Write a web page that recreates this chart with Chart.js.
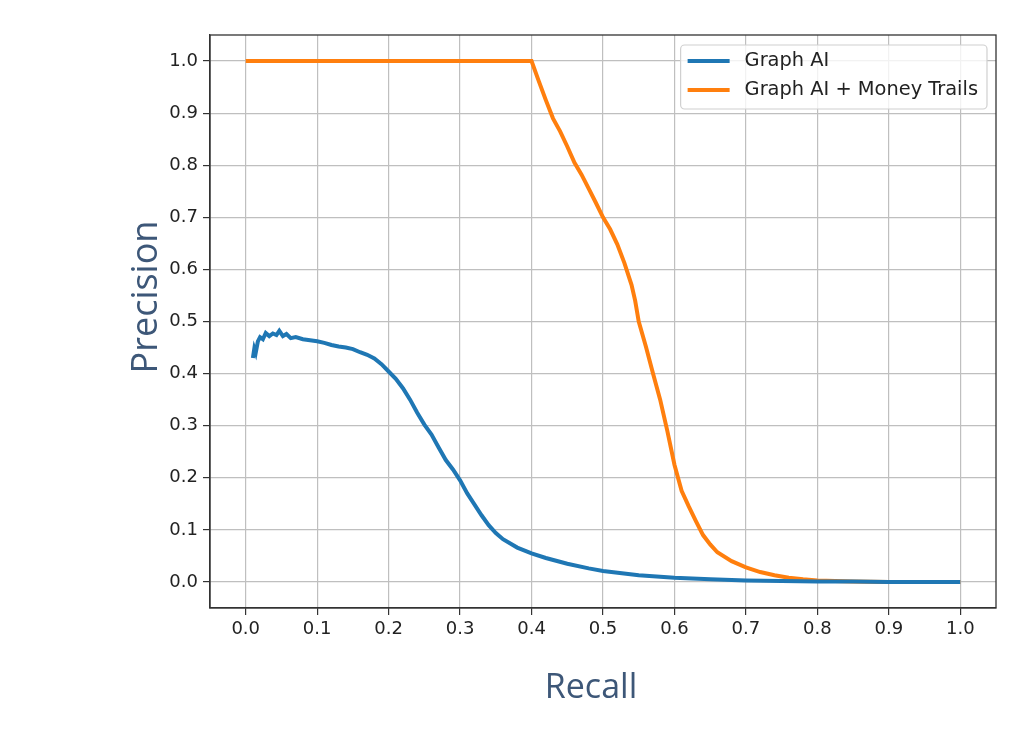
<!DOCTYPE html>
<html lang="en">
<head>
    <meta charset="UTF-8">
    <title>Precision / Recall</title>
    <script src="https://cdn.jsdelivr.net/npm/chart.js"></script>
    <style>
        html, body { margin: 0; padding: 0; background: #ffffff; }
        .grafico { width: 1032px; height: 742px; }
    </style>
</head>
<body>
    <div class="grafico">
        <canvas id="graficoPR" width="1032" height="742"></canvas>
    </div>

<script>
// dados
var xTicks = [0.0, 0.1, 0.2, 0.3, 0.4, 0.5, 0.6, 0.7, 0.8, 0.9, 1.0];
var yTicks = [0.0, 0.1, 0.2, 0.3, 0.4, 0.5, 0.6, 0.7, 0.8, 0.9, 1.0];

var tituloX = 'Recall';
var tituloY = 'Precision';

var labelAzul = 'Graph AI';
var recallAzul = [0.010, 0.012, 0.014, 0.017, 0.020, 0.024, 0.028, 0.033, 0.038, 0.043, 0.047, 0.052, 0.057, 0.063,
    0.070, 0.080, 0.090, 0.100, 0.110, 0.120, 0.130, 0.140, 0.150, 0.160, 0.170, 0.180, 0.190, 0.200, 0.210, 0.220,
    0.230, 0.240, 0.250, 0.260, 0.270, 0.280, 0.290, 0.300, 0.310, 0.320, 0.330, 0.340, 0.350, 0.360, 0.380, 0.400,
    0.420, 0.450, 0.480, 0.500, 0.550, 0.600, 0.650, 0.700, 0.750, 0.800, 0.850, 0.900, 0.950, 1.000];
var precisaoAzul = [0.430, 0.448, 0.440, 0.462, 0.470, 0.466, 0.478, 0.472, 0.477, 0.474, 0.482, 0.472, 0.476, 0.468,
    0.470, 0.466, 0.464, 0.462, 0.459, 0.455, 0.452, 0.450, 0.447, 0.441, 0.436, 0.429, 0.418, 0.404, 0.390, 0.372,
    0.350, 0.325, 0.302, 0.283, 0.258, 0.234, 0.216, 0.195, 0.170, 0.149, 0.128, 0.109, 0.094, 0.082, 0.066, 0.055,
    0.046, 0.035, 0.026, 0.021, 0.013, 0.008, 0.005, 0.003, 0.002, 0.001, 0.001, 0.000, 0.000, 0.000];

var labelLaranja = 'Graph AI + Money Trails';
var recallLaranja = [0.000, 0.400, 0.410, 0.420, 0.430, 0.440, 0.450, 0.460, 0.470, 0.480, 0.490, 0.500, 0.510, 0.520,
    0.530, 0.540, 0.545, 0.550, 0.560, 0.570, 0.580, 0.590, 0.600, 0.610, 0.620, 0.630, 0.640, 0.650, 0.660, 0.680,
    0.700, 0.720, 0.740, 0.760, 0.780, 0.800, 0.850, 0.900, 0.950, 1.000];
var precisaoLaranja = [1.000, 1.000, 0.962, 0.925, 0.890, 0.865, 0.836, 0.805, 0.782, 0.755, 0.728, 0.700, 0.677, 0.648,
    0.612, 0.570, 0.540, 0.500, 0.452, 0.400, 0.350, 0.290, 0.225, 0.175, 0.145, 0.117, 0.090, 0.072, 0.057, 0.040,
    0.028, 0.019, 0.013, 0.008, 0.005, 0.003, 0.001, 0.000, 0.000, 0.000];

function pontos(xs, ys) {
    var lista = [];
    for (var i = 0; i < xs.length; i++) {
        lista.push({ x: xs[i], y: ys[i] });
    }
    return lista;
}

var corTitulo = '#3d5778';
var fonteTick = { family: 'DejaVu Sans', size: 18 };

// moldura completa do eixo (matplotlib) + titulos dos eixos
var moldura = {
    id: 'moldura',
    afterDatasetsDraw: function (chart) {
        var a = chart.chartArea, ctx = chart.ctx;
        ctx.save();
        ctx.strokeStyle = '#333333';
        ctx.lineWidth = 1.3;
        ctx.strokeRect(a.left, a.top, a.right - a.left, a.bottom - a.top);

        // titulos: no original ficam um pouco fora do centro
        ctx.fillStyle = corTitulo;
        ctx.textAlign = 'center';
        ctx.textBaseline = 'middle';
        ctx.font = '34px "Open Sans"';
        ctx.fillText(tituloX, 591, 688);
        ctx.translate(147, 297);
        ctx.rotate(-Math.PI / 2);
        ctx.font = '36px "Open Sans"';
        ctx.fillText(tituloY, 0, 0);
        ctx.restore();
    }
};

// legenda dentro da area do grafico, canto superior direito
var legendaInterna = {
    id: 'legendaInterna',
    afterDraw: function (chart) {
        var a = chart.chartArea, ctx = chart.ctx;
        var ds = chart.data.datasets;
        ctx.save();
        ctx.font = '19.4px "DejaVu Sans"';
        var largTexto = 0;
        ds.forEach(function (d) { largTexto = Math.max(largTexto, ctx.measureText(d.label).width); });
        var w = 7 + 42 + 15 + largTexto + 9;
        var h = 64;
        var x = a.right - 9 - w;
        var y = a.top + 10;
        ctx.fillStyle = 'rgba(255,255,255,0.8)';
        ctx.strokeStyle = '#d0d0d0';
        ctx.lineWidth = 1.2;
        ctx.beginPath();
        ctx.roundRect(x, y, w, h, 4);
        ctx.fill();
        ctx.stroke();
        ds.forEach(function (d, i) {
            var ly = y + 16 + i * 29;
            ctx.strokeStyle = d.borderColor;
            ctx.lineWidth = 4;
            ctx.beginPath();
            ctx.moveTo(x + 7, ly);
            ctx.lineTo(x + 49, ly);
            ctx.stroke();
            ctx.fillStyle = '#222222';
            ctx.textBaseline = 'middle';
            ctx.fillText(d.label, x + 64, ly);
        });
        ctx.restore();
    }
};

var ctx = document.getElementById('graficoPR').getContext('2d');
new Chart(ctx, {
    type: 'line',
    data: {
        datasets: [{
            label: labelAzul,
            data: pontos(recallAzul, precisaoAzul),
            borderColor: '#1f77b4',
            borderWidth: 4,
            pointRadius: 0,
            tension: 0
        }, {
            label: labelLaranja,
            data: pontos(recallLaranja, precisaoLaranja),
            borderColor: '#ff7f0e',
            borderWidth: 4,
            pointRadius: 0,
            tension: 0
        }]
    },
    options: {
        responsive: false,
        animation: false,
        layout: { padding: { left: 120, right: 36, top: 35, bottom: 28 } },
        plugins: {
            legend: { display: false },
            tooltip: { enabled: false }
        },
        scales: {
            x: {
                type: 'linear',
                min: -0.05,
                max: 1.05,
                afterBuildTicks: function (s) { s.ticks = xTicks.map(function (v) { return { value: v }; }); },
                afterFit: function (s) { s.height = 742 - 28 - 608; },
                ticks: {
                    autoSkip: false,
                    maxRotation: 0,
                    padding: 4,
                    color: '#222222',
                    font: fonteTick,
                    callback: function (v) { return v.toFixed(1); }
                },
                grid: { color: '#bfbfbf', lineWidth: 1.2, tickColor: '#333333', tickLength: 7 },
                border: { color: '#333333', width: 1.3 }
            },
            y: {
                min: -0.05,
                max: 1.05,
                afterBuildTicks: function (s) { s.ticks = yTicks.map(function (v) { return { value: v }; }); },
                afterFit: function (s) { s.width = 210 - 120; },
                ticks: {
                    autoSkip: false,
                    padding: 5,
                    color: '#222222',
                    font: fonteTick,
                    callback: function (v) { return v.toFixed(1); }
                },
                grid: { color: '#bfbfbf', lineWidth: 1.2, tickColor: '#333333', tickLength: 7 },
                border: { color: '#333333', width: 1.3 }
            }
        }
    },
    plugins: [moldura, legendaInterna]
});
</script>
</body>
</html>
